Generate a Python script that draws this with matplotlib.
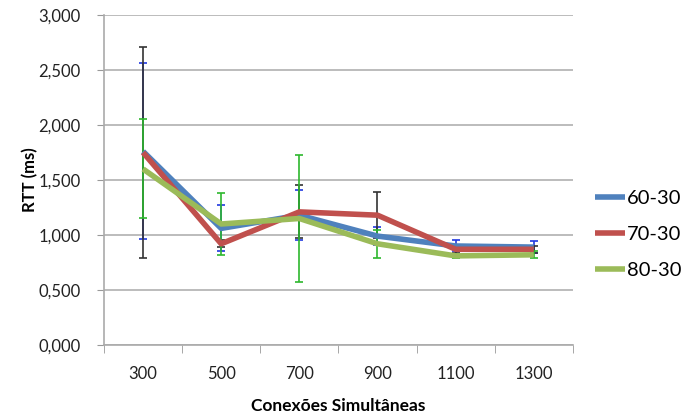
import numpy as np
import matplotlib.pyplot as plt

plt.rcParams['font.family'] = ['Lato', 'DejaVu Sans']

conexoes = ["300", "500", "700", "900", "1100", "1300"]
series = ["60-30", "70-30", "80-30"]
ytick_labels = ["0,000", "0,500", "1,000", "1,500", "2,000", "2,500", "3,000"]

rtt_60 = [1.76, 1.06, 1.18, 0.99, 0.90, 0.89]
rtt_70 = [1.75, 0.92, 1.21, 1.18, 0.87, 0.87]
rtt_80 = [1.60, 1.10, 1.15, 0.92, 0.81, 0.82]

err_60 = [0.80, 0.21, 0.23, 0.085, 0.05, 0.055]
err_70 = [0.96, 0.03, 0.24, 0.21, 0.03, 0.03]
err_80 = [0.45, 0.28, 0.58, 0.125, 0.02, 0.03]

line_colors = ["#4F81BD", "#C0504D", "#9BBB59"]
err_colors = ["#2038E0", "#333333", "#2EB82E"]

fig = plt.figure(figsize=(6.91, 4.15), dpi=100)
ax = fig.add_axes([0.1505, 0.1687, 0.6785, 0.7952])

x = np.arange(len(conexoes))
vals = [rtt_60, rtt_70, rtt_80]
errs = [err_60, err_70, err_80]

# error bars under the lines
for v, e, c in zip(vals, errs, err_colors):
    ax.errorbar(x, v, yerr=e, fmt='none', ecolor=c, elinewidth=1.2,
                capsize=3, capthick=1.2, zorder=2)

for v, c, name in zip(vals, line_colors, series):
    ax.plot(x, v, color=c, lw=4, label=name, zorder=3,
            solid_joinstyle='round', solid_capstyle='butt')

ax.set_xlim(-0.5, len(conexoes) - 0.5)
ax.set_ylim(0, 3)
ax.set_yticks(np.arange(0, 3.01, 0.5))
ax.set_yticklabels(ytick_labels)
ax.set_xticks(x)
ax.set_xticklabels(conexoes)
ax.set_xticks(np.arange(-0.5, len(conexoes)), minor=True)

ax.tick_params(axis='x', which='major', length=0, labelsize=12, pad=15, colors='#222222')
ax.tick_params(axis='x', which='minor', length=6, color='#999999', direction='out')
ax.tick_params(axis='y', length=5, color='#999999', labelsize=12, pad=12, colors='#222222')
for lab in ax.get_yticklabels():
    lab.set_color('#222222')

ax.grid(axis='y', color='#b0b0b0', lw=1.2)
ax.set_axisbelow(True)
for s in ['top', 'right']:
    ax.spines[s].set_visible(False)
ax.spines['left'].set_color('#aaaaaa')
ax.spines['bottom'].set_color('#aaaaaa')
ax.spines['left'].set_linewidth(1.2)
ax.spines['bottom'].set_linewidth(1.2)

ax.set_ylabel("RTT (ms)", fontsize=12, fontweight='bold', labelpad=0)
ax.set_xlabel("Conexões Simultâneas", fontsize=12.5, fontweight='bold', labelpad=12)

fig.legend(loc='center left', bbox_to_anchor=(0.835, 0.435), frameon=False,
           fontsize=14.5, handlelength=1.5, handletextpad=0.1, labelspacing=0.95)

fig.savefig("out.png", dpi=100)
